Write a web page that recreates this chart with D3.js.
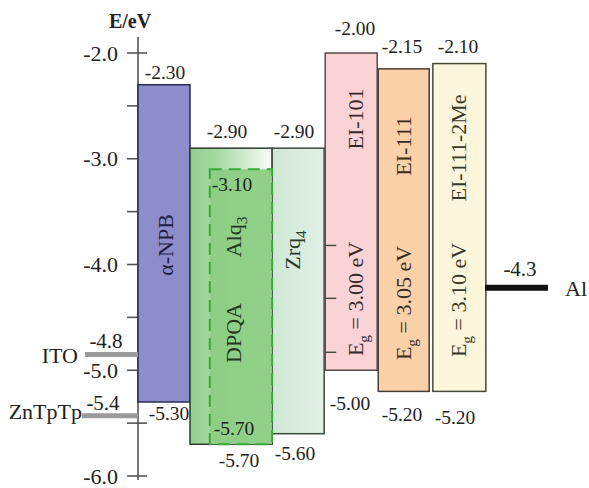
<!DOCTYPE html>
<html><head><meta charset="utf-8">
<script src="https://cdn.jsdelivr.net/npm/d3@7/dist/d3.min.js"></script>
<style>
body{margin:0;background:#fff;}
text{font-family:"Liberation Serif","Times New Roman",serif;fill:#222;}
</style></head>
<body><svg id="chart" width="589" height="488"></svg>
<script>
// ---- data ----
const materials = ["α-NPB", "Alq3", "Zrq4", "EI-101", "EI-111", "EI-111-2Me"];
const lumo = [-2.30, -2.90, -2.90, -2.00, -2.15, -2.10];
const homo = [-5.30, -5.70, -5.60, -5.00, -5.20, -5.20];
const lumoLabels = ["-2.30", "-2.90", "-2.90", "-2.00", "-2.15", "-2.10"];
const homoLabels = ["-5.30", "-5.70", "-5.60", "-5.00", "-5.20", "-5.20"];
const bandGap = [null, null, null, "3.00", "3.05", "3.10"];
const dopantName = "DPQA";
const dopantLumo = -3.10;
const dopantHomo = -5.70;
const electrodeNames = ["ITO", "ZnTpTp", "Al"];
const electrodeLabels = ["-4.8", "-5.4", "-4.3"];
const electrodeLevels = [-4.85, -5.43, -4.22];
const yTicksMajor = [-2.0, -3.0, -4.0, -5.0, -6.0];
const yTickLabels = ["-2.0", "-3.0", "-4.0", "-5.0", "-6.0"];
const yTicksMinor = [-2.5, -3.5, -4.5, -5.5];
const innerTicks = [-3.82, -4.32, -4.83];

// ---- layout ----
const svg = d3.select("#chart");
const y = d3.scaleLinear().domain([-2, -6]).range([53, 476]);
const x = d3.scaleLinear().domain([0, 1]).range([138, 190]);
const colStart = [0, 1, 2.58, 3.6, 4.62, 5.67];
const colEnd = [1, 2.58, 3.58, 4.6, 5.6, 6.69];
const fills = ["#8d8dcb", "url(#gAlq)", "url(#gZrq)", "#f9d3d6", "#fbd1aa", "#fbf6dc"];
const strokes = ["#2b2b55", "#2d3b2d", "#3a4a3e", "#5a4a4c", "#4a3d33", "#4a4a3a"];
const labelColors = ["#1e1e48", "#1f3a1f", "#2a3a2e", "#3a2a2c", "#3a2d22", "#3a3a2a"];
const axisX = x(0);

const defs = svg.append("defs");
const gA = defs.append("linearGradient").attr("id", "gAlq").attr("x1", "0").attr("x2", "1").attr("y1", "0").attr("y2", "0");
gA.append("stop").attr("offset", "0").attr("stop-color", "#92cf8c");
gA.append("stop").attr("offset", "0.35").attr("stop-color", "#a9daa4");
gA.append("stop").attr("offset", "1").attr("stop-color", "#fafdf9");
const gZ = defs.append("linearGradient").attr("id", "gZrq").attr("x1", "0").attr("x2", "1").attr("y1", "0").attr("y2", "0");
gZ.append("stop").attr("offset", "0").attr("stop-color", "#cfe8d5");
gZ.append("stop").attr("offset", "1").attr("stop-color", "#e2f1e6");

// axis
const ax = svg.append("g");
ax.append("line").attr("x1", axisX).attr("x2", axisX).attr("y1", 37).attr("y2", y(-6) + 4)
  .attr("stroke", "#555").attr("stroke-width", 1.6);
ax.selectAll(".tmaj").data(yTicksMajor).join("line")
  .attr("x1", axisX - 11).attr("x2", axisX + 9).attr("y1", d => y(d)).attr("y2", d => y(d))
  .attr("stroke", "#555").attr("stroke-width", 1.6);
ax.selectAll(".tmin").data(yTicksMinor).join("line")
  .attr("x1", axisX - 11).attr("x2", axisX + 9).attr("y1", d => y(d)).attr("y2", d => y(d))
  .attr("stroke", "#555").attr("stroke-width", 1.6);
ax.selectAll(".tl").data(yTicksMajor).join("text")
  .attr("x", axisX - 20).attr("y", d => y(d)).attr("dy", "0.35em")
  .attr("text-anchor", "end").attr("font-size", 22).attr("fill", "#333")
  .text((d, i) => yTickLabels[i]);
svg.append("text").attr("x", 130).attr("y", 28).attr("text-anchor", "middle")
  .attr("font-size", 20).attr("font-weight", "bold").text("E/eV");

// bars
const bars = svg.append("g");
bars.selectAll("rect").data(materials).join("rect")
  .attr("x", (d, i) => x(colStart[i]))
  .attr("width", (d, i) => x(colEnd[i]) - x(colStart[i]))
  .attr("y", (d, i) => y(lumo[i]))
  .attr("height", (d, i) => y(homo[i]) - y(lumo[i]))
  .attr("fill", (d, i) => fills[i])
  .attr("stroke", (d, i) => strokes[i]).attr("stroke-width", 1.5);

// dopant box inside Alq3
svg.append("rect")
  .attr("x", x(1.38)).attr("width", x(colEnd[1]) - x(1.38))
  .attr("y", y(dopantLumo)).attr("height", y(dopantHomo) - y(dopantLumo))
  .attr("fill", "#8ccd84").attr("fill-opacity", 0.95)
  .attr("stroke", "#3aaa3a").attr("stroke-width", 2).attr("stroke-dasharray", "12,7");

// inner ticks on EI-101
svg.selectAll(".inner").data(innerTicks).join("line")
  .attr("x1", x(colStart[3])).attr("x2", x(colStart[3]) + 11)
  .attr("y1", d => y(d)).attr("y2", d => y(d))
  .attr("stroke", "#444").attr("stroke-width", 1.4);

// top/bottom value labels
const VS = 19.5;
const lumoLabelPos = [[165, 79], [227, 138], [294, 138], [355, 35], [402, 53], [458, 53]];
const homoLabelPos = [[169, 420], [239, 467], [295, 460], [350, 410], [402, 421], [455, 424]];
svg.selectAll(".lv").data(materials).join("text")
  .attr("x", (d, i) => lumoLabelPos[i][0]).attr("y", (d, i) => lumoLabelPos[i][1])
  .attr("text-anchor", "middle").attr("font-size", VS).text((d, i) => lumoLabels[i]);
svg.selectAll(".hv").data(materials).join("text")
  .attr("x", (d, i) => homoLabelPos[i][0]).attr("y", (d, i) => homoLabelPos[i][1])
  .attr("text-anchor", "middle").attr("font-size", VS).text((d, i) => homoLabels[i]);
svg.append("text").attr("x", 232).attr("y", 191).attr("text-anchor", "middle").attr("font-size", VS)
  .text(dopantLumo.toFixed(2));
svg.append("text").attr("x", 234).attr("y", 435).attr("text-anchor", "middle").attr("font-size", VS)
  .text(dopantHomo.toFixed(2));

// rotated labels
function vtext(cx, cy, parts, color, size) {
  const fs = size || 22;
  const t = svg.append("text").attr("transform", `translate(${cx},${cy}) rotate(-90)`)
    .attr("text-anchor", "middle").attr("dominant-baseline", "central")
    .attr("font-size", fs).style("fill", color);
  parts.forEach(p => {
    const s = t.append("tspan").text(p.t);
    if (p.sub) s.attr("font-size", fs * 0.7).attr("baseline-shift", "sub");
  });
}
const namePos = [[165, 245], [233, 237], [292, 250], [355, 119], [403, 146], [458, 148]];
const gapPos = [null, null, null, 299, 303, 300];
materials.forEach((m, i) => {
  const parts = m === "Alq3" ? [{t: "Alq"}, {t: "3", sub: true}]
    : m === "Zrq4" ? [{t: "Zrq"}, {t: "4", sub: true}] : [{t: m}];
  vtext(namePos[i][0], namePos[i][1], parts, labelColors[i]);
  if (bandGap[i]) {
    vtext(namePos[i][0], gapPos[i],
      [{t: "E"}, {t: "g", sub: true}, {t: " = " + bandGap[i] + " eV"}], labelColors[i]);
  }
});
vtext(233, 333, [{t: dopantName}], "#1f3a1f");

// electrodes
const elX = [[85, axisX], [82, axisX], [485, 548]];
const elColor = ["#9a9a9a", "#9a9a9a", "#111"];
const elWidth = [5, 5, 6];
svg.selectAll(".el").data(electrodeNames).join("line")
  .attr("x1", (d, i) => elX[i][0]).attr("x2", (d, i) => elX[i][1])
  .attr("y1", (d, i) => y(electrodeLevels[i])).attr("y2", (d, i) => y(electrodeLevels[i]))
  .attr("stroke", (d, i) => elColor[i]).attr("stroke-width", (d, i) => elWidth[i]);
const elNamePos = [[78, 363, "end"], [82, 419, "end"], [565, 296, "start"]];
svg.selectAll(".eln").data(electrodeNames).join("text")
  .attr("x", (d, i) => elNamePos[i][0]).attr("y", (d, i) => elNamePos[i][1])
  .attr("text-anchor", (d, i) => elNamePos[i][2]).attr("font-size", 22).text(d => d);
const elValPos = [[106, 348], [103, 410], [520, 276]];
svg.selectAll(".elv").data(electrodeNames).join("text")
  .attr("x", (d, i) => elValPos[i][0]).attr("y", (d, i) => elValPos[i][1])
  .attr("text-anchor", "middle").attr("font-size", 21).text((d, i) => electrodeLabels[i]);
</script></body></html>
